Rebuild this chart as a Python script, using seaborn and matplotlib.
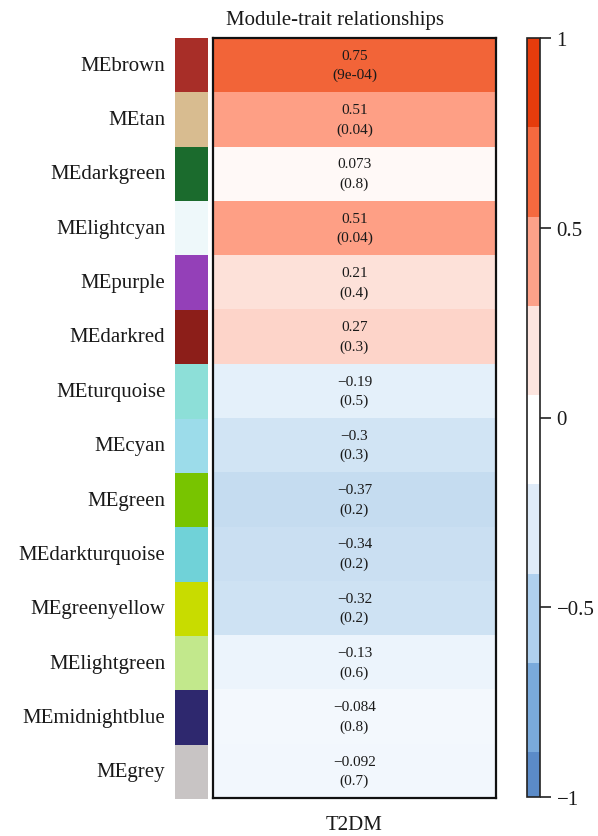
import numpy as np
import pandas as pd
import matplotlib
matplotlib.use("Agg")
import matplotlib.pyplot as plt
import matplotlib.cm as cm
from matplotlib.colors import LinearSegmentedColormap, ListedColormap, BoundaryNorm
import seaborn as sns

# Module eigengenes and their correlation with the trait
modules = ["MEbrown", "MEtan", "MEdarkgreen", "MElightcyan", "MEpurple", "MEdarkred",
           "MEturquoise", "MEcyan", "MEgreen", "MEdarkturquoise", "MEgreenyellow",
           "MElightgreen", "MEmidnightblue", "MEgrey"]
module_colors = ["#a82e28", "#d8bc90", "#1b6b2d", "#eef8fa", "#9440b8", "#8c1e19",
                 "#8ddfd8", "#9cdcea", "#78c400", "#70d2d8", "#c8dc00",
                 "#c2e88c", "#2e286e", "#c8c4c4"]
correlation = [0.75, 0.51, 0.073, 0.51, 0.21, 0.27, -0.19, -0.3, -0.37, -0.34, -0.32,
               -0.13, -0.084, -0.092]
pvalue_labels = ["9e-04", "0.04", "0.8", "0.04", "0.4", "0.3", "0.5", "0.3", "0.2",
                 "0.2", "0.2", "0.6", "0.8", "0.7"]
trait = "T2DM"
cbar_ticks = [-1, -0.5, 0, 0.5, 1]
cbar_ticklabels = ["\u22121", "\u22120.5", "0", "0.5", "1"]
cbar_bounds = [-1, -0.882, -0.647, -0.412, -0.176, 0.059, 0.294, 0.529, 0.765, 1]

sns.set_style("white")
plt.rcParams["font.family"] = ["Liberation Serif", "DejaVu Serif"]
plt.rcParams["axes.unicode_minus"] = True

W, H = 598, 837
fig = plt.figure(figsize=(W / 100, H / 100), dpi=100)


def box(left, top, right, bottom):
    return [left / W, 1 - bottom / H, (right - left) / W, (bottom - top) / H]


# blue - white - red scale for correlations
anchors = [(-1.0, "#4f80c0"), (-0.77, "#7aaadb"), (-0.53, "#aed0ee"), (-0.37, "#c5dcf0"),
           (-0.3, "#d1e4f4"), (-0.19, "#e4f0fa"), (-0.13, "#ecf4fc"), (0.0, "#ffffff"),
           (0.073, "#fff9f7"), (0.24, "#fddbd2"), (0.51, "#fea086"), (0.75, "#f26539"),
           (1.0, "#e03508")]
cmap = LinearSegmentedColormap.from_list("bwr_mod", [((v + 1) / 2, c) for v, c in anchors])

df = pd.DataFrame({trait: correlation}, index=modules)
annot = np.array([[f"{r:g}".replace("-", "\u2212") + f"\n({p})"]
                  for r, p in zip(correlation, pvalue_labels)])

# main heatmap
ax = fig.add_axes(box(213, 39, 496, 799))
sns.heatmap(df, annot=annot, fmt="", cmap=cmap, vmin=-1, vmax=1, cbar=False, ax=ax,
            xticklabels=False, yticklabels=False,
            annot_kws=dict(fontsize=11, color="#1a1a1a", linespacing=1.6))
for sp in ax.spines.values():
    sp.set_visible(True)
    sp.set_linewidth(1.6)
    sp.set_color("#111111")

# module colour strip with labels
sax = fig.add_axes(box(175, 39, 208, 800))
codes = pd.DataFrame({"module": np.arange(len(modules))}, index=modules)
sns.heatmap(codes, cmap=ListedColormap(module_colors), cbar=False, ax=sax,
            xticklabels=False, yticklabels=modules)
sax.tick_params(axis="y", length=0, pad=7, labelsize=15, labelcolor="#1a1a1a")
for lab in sax.get_yticklabels():
    lab.set_rotation(0)

# discrete colour bar
band_colors = ["#5b8bc8", "#7aaadb", "#afd0ee", "#dfebf8", "#ffffff",
               "#fde5df", "#fda189", "#f5693f", "#e63c0c"]
cax = fig.add_axes(box(527, 39, 540, 798))
sm = cm.ScalarMappable(norm=BoundaryNorm(cbar_bounds, len(band_colors)),
                       cmap=ListedColormap(band_colors))
cb = fig.colorbar(sm, cax=cax, ticks=cbar_ticks, spacing="proportional")
cb.ax.minorticks_off()
cb.ax.set_yticklabels(cbar_ticklabels)
cb.ax.tick_params(which="major", length=8, width=1.2, labelsize=15, pad=4,
                  color="#222222", labelcolor="#1a1a1a")
cb.ax.tick_params(which="minor", length=0)
cb.outline.set_linewidth(1.2)
cb.outline.set_edgecolor("#222222")

fig.text(335.5 / W, 1 - 25 / H, "Module-trait relationships", ha="center",
         va="baseline", fontsize=15, color="#1a1a1a")
fig.text(354.5 / W, 1 - 830 / H, trait, ha="center", va="baseline", fontsize=15,
         color="#1a1a1a")

fig.savefig("out.png", dpi=100)
